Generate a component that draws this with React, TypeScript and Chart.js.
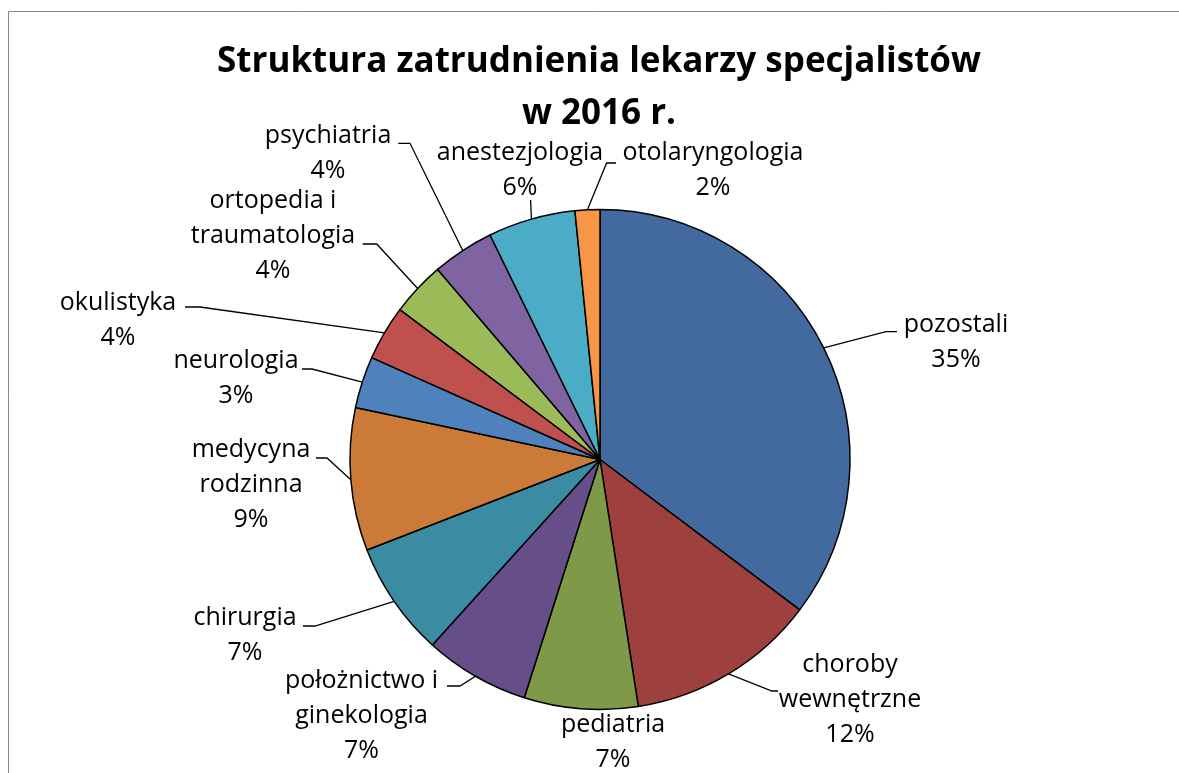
import React, { useEffect, useRef } from "react";
import { Chart, registerables } from "chart.js";

Chart.register(...registerables);

// ---------- data ----------
const categories = [
  "pozostali",
  "choroby wewnętrzne",
  "pediatria",
  "położnictwo i ginekologia",
  "chirurgia",
  "medycyna rodzinna",
  "neurologia",
  "okulistyka",
  "ortopedia i traumatologia",
  "psychiatria",
  "anestezjologia",
  "otolaryngologia",
];

const shares = [35.27, 12.28, 7.35, 6.8, 7.4, 9.23, 3.35, 3.55, 3.52, 4.0, 5.65, 1.6];

const labelLines = [
  ["pozostali"],
  ["choroby", "wewnętrzne"],
  ["pediatria"],
  ["położnictwo i", "ginekologia"],
  ["chirurgia"],
  ["medycyna", "rodzinna"],
  ["neurologia"],
  ["okulistyka"],
  ["ortopedia i", "traumatologia"],
  ["psychiatria"],
  ["anestezjologia"],
  ["otolaryngologia"],
];

const sliceColors = [
  "#426A9F",
  "#9E413E",
  "#7E9A48",
  "#664F88",
  "#3B8CA3",
  "#CB7B37",
  "#4F81BD",
  "#C0504D",
  "#9BBB59",
  "#8064A2",
  "#4BACC6",
  "#F79646",
];

const titleLines = ["Struktura zatrudnienia lekarzy specjalistów", "w 2016 r."];

// ---------- layout (label placement, not data) ----------
type LabelPos = { cx: number; y: number; leader: number[][] };
const labelLayout: LabelPos[] = [
  { cx: 956, y: 331.5, leader: [[886, 331.7], [897, 331.7]] },
  { cx: 850, y: 672, leader: [[772, 691], [778, 691]] },
  { cx: 613, y: 731.7, leader: [] },
  { cx: 361.5, y: 688, leader: [[460, 686], [447, 686]] },
  { cx: 245, y: 625, leader: [[315, 626], [303, 626]] },
  { cx: 251, y: 457, leader: [[327, 458], [316, 458]] },
  { cx: 236, y: 368, leader: [[312, 369], [302, 369]] },
  { cx: 118, y: 310, leader: [[200, 307], [185, 307]] },
  { cx: 273, y: 207.5, leader: [[376.7, 244], [362.7, 244]] },
  { cx: 328, y: 143.3, leader: [[410, 143.3], [398.3, 143.3]] },
  { cx: 520, y: 160, leader: [[530.6, 200]] },
  { cx: 713, y: 160, leader: [[606.6, 163], [616, 163]] },
];

const LINE_H = 35;
const LABEL_FONT = "25px 'Open Sans'";
const TITLE_FONT = "bold 35px 'Open Sans'";

export default function App() {
  const ref = useRef<HTMLCanvasElement>(null);

  useEffect(() => {
    const canvas = ref.current;
    if (!canvas) return;
    document.body.style.overflow = "hidden";

    const total = shares.reduce((a, b) => a + b, 0);

    const labelPlugin = {
      id: "excelLabels",
      beforeDraw(chart: any) {
        const ctx = chart.ctx;
        ctx.save();
        ctx.fillStyle = "#ffffff";
        ctx.fillRect(0, 0, chart.width, chart.height);
        ctx.strokeStyle = "#888888";
        ctx.lineWidth = 1;
        ctx.beginPath();
        ctx.moveTo(8.5, chart.height);
        ctx.lineTo(8.5, 11.5);
        ctx.lineTo(chart.width, 11.5);
        ctx.stroke();
        ctx.restore();
      },
      afterDatasetsDraw(chart: any) {
        const ctx = chart.ctx;
        const meta = chart.getDatasetMeta(0);
        ctx.save();
        // leader lines
        ctx.strokeStyle = "#000000";
        ctx.lineWidth = 1.3;
        meta.data.forEach((arc: any, i: number) => {
          const lay = labelLayout[i];
          if (!lay || lay.leader.length === 0) return;
          const p = arc.getProps(["x", "y", "startAngle", "endAngle", "outerRadius"], true);
          const mid = (p.startAngle + p.endAngle) / 2;
          const sx = p.x + Math.cos(mid) * p.outerRadius;
          const sy = p.y + Math.sin(mid) * p.outerRadius;
          ctx.beginPath();
          ctx.moveTo(sx, sy);
          lay.leader.forEach((pt) => ctx.lineTo(pt[0], pt[1]));
          ctx.stroke();
        });
        // labels
        ctx.fillStyle = "#000000";
        ctx.font = LABEL_FONT;
        ctx.textAlign = "center";
        ctx.textBaseline = "alphabetic";
        categories.forEach((_, i) => {
          const lay = labelLayout[i];
          const pct = Math.round((shares[i] * 100) / total) + "%";
          const lines = [...labelLines[i], pct];
          lines.forEach((t, k) => ctx.fillText(t, lay.cx, lay.y + k * LINE_H));
        });
        // title
        ctx.font = TITLE_FONT;
        ctx.fillText(titleLines[0], 599, 72);
        ctx.fillText(titleLines[1], 599, 124);
        ctx.restore();
      },
    };

    const chart = new Chart(canvas, {
      type: "pie",
      data: {
        labels: categories,
        datasets: [
          {
            data: shares,
            backgroundColor: sliceColors,
            borderColor: "#000000",
            borderWidth: 1.5,
            radius: 250,
          } as any,
        ],
      },
      options: {
        responsive: false,
        animation: false,
        events: [],
        layout: { padding: { left: 350, right: 329, top: 209.5, bottom: 63.5 } },
        plugins: {
          legend: { display: false },
          tooltip: { enabled: false },
          title: { display: false },
        },
      },
      plugins: [labelPlugin],
    });

    return () => chart.destroy();
  }, []);

  return (
    <div
      style={{
        position: "absolute",
        left: 0,
        top: 0,
        width: 1179,
        height: 773,
        overflow: "hidden",
        background: "#fff",
      }}
    >
      <canvas ref={ref} width={1179} height={773} style={{ display: "block" }} />
    </div>
  );
}
